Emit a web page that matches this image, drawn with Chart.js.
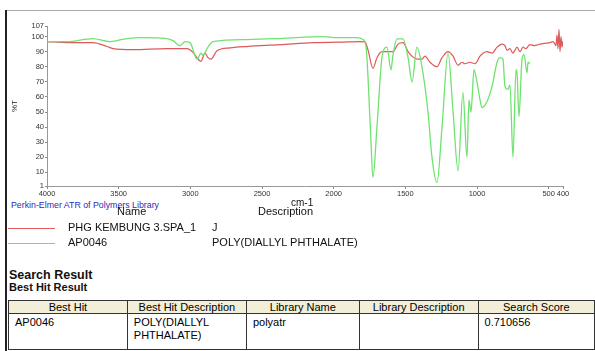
<!DOCTYPE html>
<html>
<head>
<meta charset="utf-8">
<script src="https://cdn.jsdelivr.net/npm/chart.js@4.4.1/dist/chart.umd.min.js"></script>
<style>
  html, body { margin:0; padding:0; background:#fff; width:595px; height:351px; overflow:hidden; font-family:"Liberation Sans", Arial, sans-serif; }
  #wrap { position:absolute; left:0; top:0; width:595px; height:200px; }
  .t { position:absolute; white-space:nowrap; color:#111; line-height:1; }
  .frameTop { position:absolute; left:5px; top:10px; width:590px; height:1px; background:#aaa; }
  .frameLeft { position:absolute; left:5px; top:10px; width:2px; height:341px; background:#222; }
  .leg { position:absolute; height:1px; width:47px; left:8px; }
  table { position:absolute; left:8px; top:300px; border-collapse:collapse; font-size:11px; }
  td, th { border:1.5px solid #333; padding:0 6px; vertical-align:top; }
  th { background:#f2eed8; font-weight:normal; text-align:center; height:12px; line-height:12px; }
  td { height:33px; line-height:13px; padding-top:2px; text-align:left; }
</style>
</head>
<body>
<div class="frameTop"></div>
<div class="frameLeft"></div>
<div id="wrap"><canvas id="c" width="595" height="200"></canvas></div>

<div class="t" style="left:11px;top:112px;font-size:8px;transform:rotate(-90deg);transform-origin:left top;">%T</div>
<div class="t" style="left:11px;top:201px;font-size:8.8px;color:#2b2bb8;">Perkin-Elmer ATR of Polymers Library</div>
<div class="t" style="left:291px;top:198px;font-size:10px;">cm-1</div>
<div class="t" style="left:117px;top:206px;font-size:11px;">Name</div>
<div class="t" style="left:258px;top:206px;font-size:11px;">Description</div>

<div class="leg" style="top:228px;background:#e06060;"></div>
<div class="t" style="left:68px;top:222px;font-size:11px;">PHG KEMBUNG 3.SPA_1</div>
<div class="t" style="left:212px;top:222px;font-size:11px;">J</div>
<div class="leg" style="top:243px;background:#70e070;"></div>
<div class="t" style="left:68px;top:237px;font-size:11px;">AP0046</div>
<div class="t" style="left:212px;top:237px;font-size:11px;">POLY(DIALLYL PHTHALATE)</div>

<div class="t" style="left:9px;top:269px;font-size:12.5px;font-weight:bold;">Search Result</div>
<div class="t" style="left:9px;top:282px;font-size:11px;font-weight:bold;">Best Hit Result</div>

<table>
  <tr>
    <th style="width:110px">Best Hit</th>
    <th style="width:108px">Best Hit Description</th>
    <th style="width:104px">Library Name</th>
    <th style="width:109px">Library Description</th>
    <th style="width:107px">Search Score</th>
  </tr>
  <tr>
    <td>AP0046</td>
    <td>POLY(DIALLYL<br>PHTHALATE)</td>
    <td>polyatr</td>
    <td></td>
    <td>0.710656</td>
  </tr>
</table>

<script>
// ---- data (wavenumber cm-1, %T) ----
const sampleName = "PHG KEMBUNG 3.SPA_1";
const libName = "AP0046";
const xTicks = [4000, 3500, 3000, 2500, 2000, 1500, 1000, 500, 400];
const yTicks = [1, 10, 20, 30, 40, 50, 60, 70, 80, 90, 100, 107];

const redWn = [4000,3860,3679,3581,3540,3400,3163,3023,2981,2946,2926,2898,2877,2856,2814,2723,2605,2374,2144,1956,1816,1781,1760,1726,1698,1663,1586,1551,1516,1481,1453,1419,1384,1363,1328,1279,1244,1202,1167,1132,1105,1084,1049,1014,979,958,930,895,860,826,805,791,770,749,735,721,700,679,660,630,600,560,530,491,470,456,449,442,435,428,421,414,407,400];
const redT  = [96.7,96,96,93.4,92,91.3,92,92,89.5,85,83.6,89,86,85,90.6,92.5,93.4,94.6,96,96.3,96.7,96.5,91,79,86,90,90,95,96,90,87,85,85,87,83,80,86,90,87,81,83,82,83,82,87,89,90,89,93,95,94,91,92,89,91,93,90,93,92,94.7,94,95,95.5,96,96.7,95,94,101,92,104.7,90,100,93,97];

const greenWn = [4000,3860,3679,3560,3442,3351,3163,3121,3072,3037,3002,2953,2926,2912,2877,2842,2605,2374,2074,1977,1837,1795,1774,1744,1726,1698,1663,1628,1600,1586,1558,1516,1481,1453,1419,1384,1342,1314,1279,1244,1202,1167,1132,1098,1070,1056,1042,1021,1000,979,965,930,895,860,840,819,805,784,770,749,728,721,707,686,672,651,644,630];
const greenT  = [96.7,96.7,98.7,96.7,98.7,99.3,98.7,97.3,94,96.7,96,85,89,87.5,93,96.7,98,98.7,100,99.3,99.3,98,93,40,6.7,40,86,93,78,88,98.5,98.5,86,70,93,80,50,20,3.3,40,89,50,11,63,20,58,50,78,70,58,53,57,67,83,86,85,67,65,68,20,78,76,47,85,88,76,83,82];

const toPts = (xs, ys) => xs.map((x, i) => ({ x: x, y: ys[i] }));

new Chart(document.getElementById('c'), {
  type: 'line',
  data: {
    datasets: [
      { label: libName, data: toPts(greenWn, greenT), borderColor: '#6ee36e', borderWidth: 1.3, pointRadius: 0, cubicInterpolationMode: 'monotone', fill: false },
      { label: sampleName, data: toPts(redWn, redT), borderColor: '#de5a5a', borderWidth: 1.2, pointRadius: 0, cubicInterpolationMode: 'monotone', fill: false }
    ]
  },
  options: {
    responsive: false,
    animation: false,
    events: [],
    layout: { padding: { left: 0, right: 32, top: 26, bottom: 0 } },
    plugins: { legend: { display: false }, tooltip: { enabled: false } },
    scales: {
      x: {
        type: 'linear', reverse: true, min: 400, max: 4000,
        afterBuildTicks: s => { s.ticks = xTicks.map(v => ({ value: v })); },
        afterFit: s => { s.height = 14; },
        grid: { drawOnChartArea: false, drawTicks: true, tickLength: 3, color: '#888' },
        border: { display: true, color: '#999', width: 1 },
        ticks: { autoSkip: false, maxRotation: 0, padding: 0, color: '#333', font: { family: 'Liberation Sans', size: 7.5 }, callback: v => String(v) }
      },
      y: {
        type: 'linear', min: 1, max: 107,
        afterBuildTicks: s => { s.ticks = yTicks.map(v => ({ value: v })); },
        afterFit: s => { s.width = 47; },
        grid: { drawOnChartArea: false, drawTicks: true, tickLength: 2, color: '#888' },
        border: { display: true, color: '#999', width: 1 },
        ticks: { autoSkip: false, padding: 1, color: '#333', font: { family: 'Liberation Sans', size: 7.5 }, callback: v => String(v) }
      }
    }
  }
});
</script>
</body>
</html>
